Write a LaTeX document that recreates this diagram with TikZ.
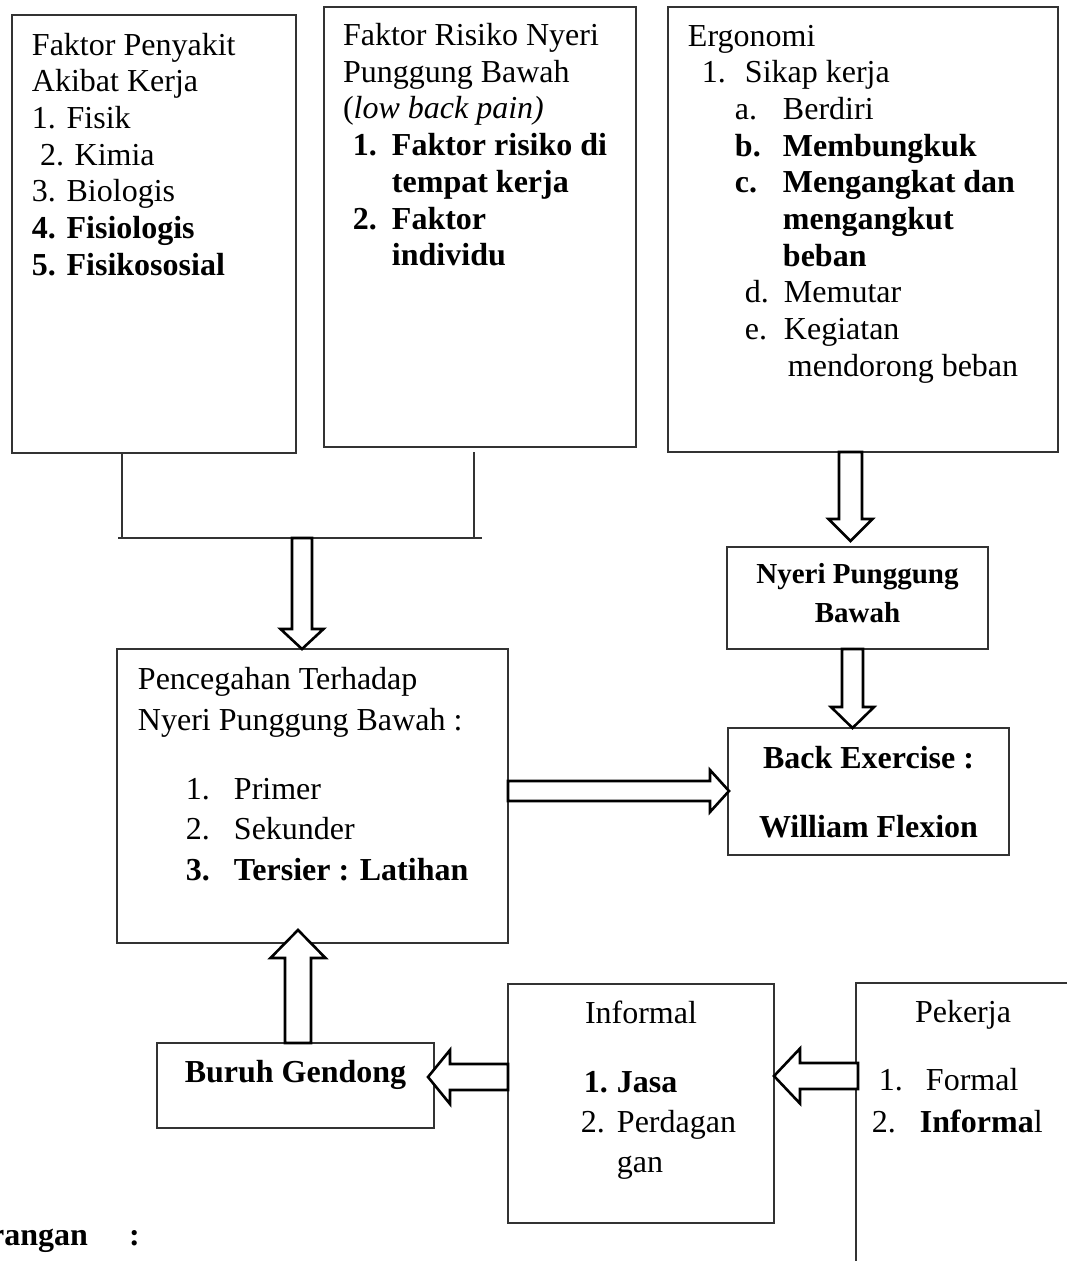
\documentclass[tikz,border=0pt]{standalone}
\usepackage{fontspec}
\setmainfont{Liberation Serif}
\usetikzlibrary{calc}
\newcommand{\Lin}[2]{\hbox{\kern#1pt\relax#2}}
\newcommand{\Itm}[4]{\hbox{\kern#1pt\relax\hbox to \dimexpr#2pt-#1pt\relax{#3\hfil}#4}}
% block arrows: #1 start, #2 tip, #3 shaft half width, #4 head half width, #5 head length
\newcommand{\blkdown}[5]{\draw[blk] let \p1=(#1), \p2=(#2) in
  (\x2-#3pt,\y1) -- (\x2-#3pt,\y2+#5pt) -- (\x2-#4pt,\y2+#5pt) -- (\x2,\y2) --
  (\x2+#4pt,\y2+#5pt) -- (\x2+#3pt,\y2+#5pt) -- (\x2+#3pt,\y1) -- cycle;}
\newcommand{\blkup}[5]{\draw[blk] let \p1=(#1), \p2=(#2) in
  (\x2-#3pt,\y1) -- (\x2-#3pt,\y2-#5pt) -- (\x2-#4pt,\y2-#5pt) -- (\x2,\y2) --
  (\x2+#4pt,\y2-#5pt) -- (\x2+#3pt,\y2-#5pt) -- (\x2+#3pt,\y1) -- cycle;}
\newcommand{\blkleft}[5]{\draw[blk] let \p1=(#1), \p2=(#2) in
  (\x1,\y2-#3pt) -- (\x2+#5pt,\y2-#3pt) -- (\x2+#5pt,\y2-#4pt) -- (\x2,\y2) --
  (\x2+#5pt,\y2+#4pt) -- (\x2+#5pt,\y2+#3pt) -- (\x1,\y2+#3pt) -- cycle;}
\newcommand{\blkright}[5]{\draw[blk] let \p1=(#1), \p2=(#2) in
  (\x1,\y2-#3pt) -- (\x2-#5pt,\y2-#3pt) -- (\x2-#5pt,\y2-#4pt) -- (\x2,\y2) --
  (\x2-#5pt,\y2+#4pt) -- (\x2-#5pt,\y2+#3pt) -- (\x1,\y2+#3pt) -- cycle;}
\begin{document}
\begin{tikzpicture}[x=1pt,y=-1pt,
  box/.style={draw=black!80, line width=1.3pt, inner sep=0pt, outer sep=0pt, anchor=north west},
  thinline/.style={draw=black!80, line width=1.3pt},
  blk/.style={draw=black, line width=2.6pt, fill=white, line join=miter},
  txt/.style={inner sep=0pt, outer sep=0pt, anchor=base west, font=\fontsize{32}{36.7}\selectfont},
  ctxt/.style={inner sep=0pt, outer sep=0pt, anchor=base, font=\fontsize{32}{36.7}\selectfont\bfseries}]
\useasboundingbox (0,0) rectangle (1066,1261);
\fill[white] (0,0) rectangle (1066,1261);
% boxes
\node[box, minimum width=284pt, minimum height=438pt] (b1) at (12,15) {};
\node[box, minimum width=312pt, minimum height=440pt] (b2) at (324,7) {};
\node[box, minimum width=390pt, minimum height=445pt] (b3) at (668,7) {};
\node[box, minimum width=391pt, minimum height=294pt] (pc) at (117,649) {};
\node[box, minimum width=261pt, minimum height=102pt] (np) at (727,547) {};
\node[box, minimum width=281pt, minimum height=127pt] (be) at (728,728) {};
\node[box, minimum width=277pt, minimum height=85pt] (bg) at (157,1043) {};
\node[box, minimum width=266pt, minimum height=239pt] (inf) at (508,984) {};
\coordinate (pk) at (856,983);
\draw[thinline] (1070,983) -- (pk) -- (856,1265);
% bracket
\coordinate (bl) at (122,538);
\coordinate (br) at (474,538);
\draw[thinline] (bl |- b1.south) -- (bl);
\draw[thinline] (474,452) -- (br);
\draw[thinline] (118,538) -- (482,538);
% texts
\node[txt] (t1) at (0,55) {\vtop{%
  \Lin{32}{Faktor Penyakit}
  \Lin{32}{Akibat Kerja}
  \Lin{32}{1. Fisik}
  \Lin{40}{2. Kimia}
  \Lin{32}{3. Biologis}
  \Lin{32}{\bfseries 4. Fisiologis}
  \Lin{32}{\bfseries 5. Fisikososial}}};
\node[txt] (t2) at (0,45.5) {\vtop{%
  \Lin{343}{Faktor Risiko Nyeri}
  \Lin{343}{Punggung Bawah}
  \Lin{343}{({\itshape low back pain)}}
  \Itm{353}{392}{\bfseries 1.}{\bfseries Faktor risiko di}
  \Lin{392}{\bfseries tempat kerja}
  \Itm{353}{392}{\bfseries 2.}{\bfseries Faktor}
  \Lin{392}{\bfseries individu}}};
\node[txt] (t3) at (0,46) {\vtop{%
  \Lin{688}{Ergonomi}
  \Itm{702}{745}{1.}{Sikap kerja}
  \Itm{735}{783}{a.}{Berdiri}
  \Itm{735}{783}{\bfseries b.}{\bfseries Membungkuk}
  \Itm{735}{783}{\bfseries c.}{\bfseries Mengangkat dan}
  \Lin{783}{\bfseries mengangkut}
  \Lin{783}{\bfseries beban}
  \Itm{745}{784}{d.}{Memutar}
  \Itm{745}{784}{e.}{Kegiatan}
  \Lin{788}{mendorong beban}}};
\node[txt, font=\fontsize{32}{41}\selectfont] (t4) at (0,689) {\vtop{%
  \Lin{138}{Pencegahan Terhadap}
  \Lin{138}{Nyeri Punggung Bawah :}}};
\node[txt, font=\fontsize{32}{40.5}\selectfont] (t5) at (0,799) {\vtop{%
  \Itm{186}{234}{1.}{Primer}
  \Itm{186}{234}{2.}{Sekunder}
  \Itm{186}{234}{\bfseries 3.}{\bfseries Tersier : Latihan}}};
\node[ctxt, font=\fontsize{29}{39}\selectfont\bfseries] (t6) at (857.5,583) {\vtop{%
  \hbox{\makebox[0pt]{Nyeri Punggung}}
  \hbox{\makebox[0pt]{Bawah}}}};
\node[ctxt, font=\fontsize{32}{69}\selectfont\bfseries] (t7) at (868.5,768) {\vtop{%
  \hbox{\makebox[0pt]{Back Exercise :}}
  \hbox{\makebox[0pt]{William Flexion}}}};
\node[ctxt] (t8) at (295.5,1082) {Buruh Gendong};
\node[txt] (t9) at (585,1023) {Informal};
\node[txt, font=\fontsize{32}{40}\selectfont] (t10) at (0,1092) {\vtop{%
  \Itm{584}{617}{\bfseries 1.}{\bfseries Jasa}
  \Itm{581}{617}{2.}{Perdagan}
  \Lin{617}{gan}}};
\node[txt] (t11) at (915,1022) {Pekerja};
\node[txt] (t12) at (0,1090) {\Itm{879}{926}{1.}{Formal}};
\node[txt] (t13) at (0,1132) {\Itm{872}{920}{2.}{\textbf{Informa}l}};
\node[txt, anchor=base east, font=\fontsize{32}{36.7}\selectfont\bfseries] (t14) at (88,1245) {rangan};
\node[txt, font=\fontsize{32}{36.7}\selectfont\bfseries] (t15) at (129,1245) {:};
% arrows
\coordinate (a1) at (302,538);
\blkdown{a1}{a1 |- pc.north}{10}{21.5}{20}
\coordinate (a2) at (850.5,452);
\coordinate (a2t) at (850.5,541);
\blkdown{a2}{a2t}{11.5}{22}{22}
\coordinate (a3) at (852.5,649);
\blkdown{a3}{a3 |- be.north}{10.5}{21.5}{21}
\coordinate (a4) at (508,791);
\coordinate (a4t) at (729,791);
\blkright{a4}{a4t}{10}{21}{19}
\coordinate (a5) at (298,1043);
\coordinate (a5t) at (298,930);
\blkup{a5}{a5t}{13}{27.5}{28}
\coordinate (a6) at (508,1077);
\coordinate (a6t) at (428,1077);
\blkleft{a6}{a6t}{13}{27}{22}
\coordinate (a7) at (858,1076);
\coordinate (a7t) at (774,1076);
\blkleft{a7}{a7t}{13}{27.5}{26}
\end{tikzpicture}
\end{document}
